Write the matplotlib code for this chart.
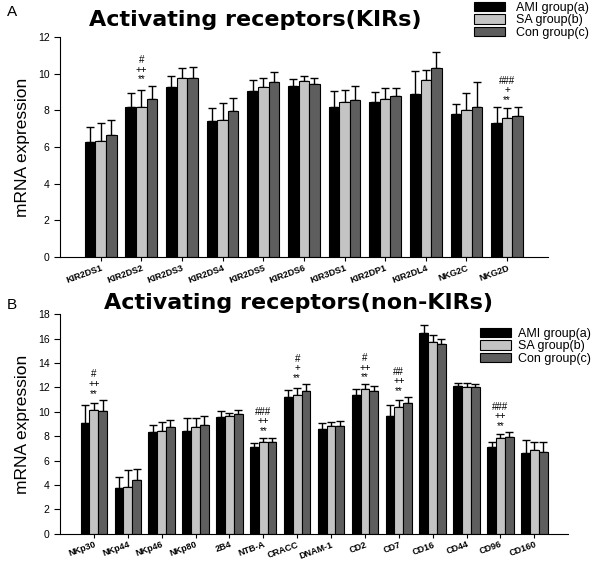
import numpy as np
from matplotlib import pyplot as plt

plt.rcParams['font.family'] = ['Liberation Sans', 'DejaVu Sans']

groups = ['AMI group(a)', 'SA group(b)', 'Con group(c)']
colors = ['#000000', '#c4c4c4', '#5e5e5e']

# panel A: KIRs
kir_names = ['KIR2DS1', 'KIR2DS2', 'KIR2DS3', 'KIR2DS4', 'KIR2DS5', 'KIR2DS6',
             'KIR3DS1', 'KIR2DP1', 'KIR2DL4', 'NKG2C', 'NKG2D']
kir_ami = [6.27, 8.16, 9.25, 7.41, 9.03, 9.34, 8.21, 8.43, 8.87, 7.80, 7.30]
kir_sa = [6.32, 8.20, 9.74, 7.47, 9.27, 9.58, 8.47, 8.63, 9.65, 8.01, 7.58]
kir_con = [6.68, 8.63, 9.74, 7.96, 9.54, 9.45, 8.54, 8.80, 10.33, 8.20, 7.69]
kir_ami_err = [0.83, 0.80, 0.60, 0.73, 0.64, 0.37, 0.86, 0.55, 1.29, 0.54, 0.91]
kir_sa_err = [0.97, 0.93, 0.56, 0.91, 0.51, 0.31, 0.66, 0.57, 0.53, 0.92, 0.54]
kir_con_err = [0.77, 0.71, 0.62, 0.73, 0.55, 0.31, 0.77, 0.42, 0.87, 1.36, 0.52]
kir_marks = {1: ['#', '++', '**'], 10: ['###', '+', '**']}

# panel B: non-KIRs
non_names = ['NKp30', 'NKp44', 'NKp46', 'NKp80', '2B4', 'NTB-A', 'CRACC',
             'DNAM-1', 'CD2', 'CD7', 'CD16', 'CD44', 'CD96', 'CD160']
non_ami = [9.04, 3.71, 8.31, 8.45, 9.58, 7.09, 11.20, 8.58, 11.34, 9.66, 16.49, 12.10, 7.15, 6.63]
non_sa = [10.12, 3.84, 8.45, 8.77, 9.66, 7.50, 11.40, 8.85, 11.88, 10.40, 15.73, 12.05, 7.82, 6.88]
non_con = [10.02, 4.41, 8.72, 8.90, 9.80, 7.50, 11.69, 8.80, 11.69, 10.69, 15.57, 12.02, 7.90, 6.71]
non_ami_err = [1.49, 0.97, 0.62, 1.00, 0.44, 0.35, 0.58, 0.49, 0.54, 0.92, 0.62, 0.27, 0.35, 1.06]
non_sa_err = [0.63, 1.36, 0.67, 0.68, 0.27, 0.38, 0.54, 0.27, 0.41, 0.54, 0.54, 0.29, 0.36, 0.62]
non_con_err = [0.94, 0.87, 0.59, 0.74, 0.35, 0.38, 0.55, 0.43, 0.41, 0.49, 0.43, 0.27, 0.41, 0.79]
non_marks = {0: ['#', '++', '**'], 5: ['###', '++', '**'], 6: ['#', '+', '**'],
             8: ['#', '++', '**'], 9: ['##', '++', '**'], 12: ['###', '++', '**']}


def draw_panel(ax, names, vals, errs, marks, ymax, width=0.26):
    x = np.arange(len(names))
    for i, (v, e) in enumerate(zip(vals, errs)):
        ax.bar(x + (i - 1) * width, v, width, color=colors[i], edgecolor='black',
               linewidth=0.8, label=groups[i], zorder=2)
        ax.errorbar(x + (i - 1) * width, v, yerr=[np.zeros(len(v)), e], fmt='none',
                    ecolor='black', elinewidth=1, capsize=3, capthick=1, zorder=1)
    tops = np.max([np.array(v) + np.array(e) for v, e in zip(vals, errs)], axis=0)
    for k, lines in marks.items():
        for j, s in enumerate(reversed(lines)):
            ax.annotate(s, (x[k], tops[k]), xytext=(0, 1 + j * 7),
                        textcoords='offset points', ha='center', va='bottom',
                        fontsize=7)
    ax.set_xlim(-1, len(names))
    ax.set_ylim(0, ymax)
    ax.set_yticks(np.arange(0, ymax + 1, 2))
    ax.set_xticks(x)
    ax.set_xticklabels(names, rotation=20, ha='right', rotation_mode='anchor',
                       fontsize=6.5, fontweight='bold')
    ax.tick_params(axis='y', labelsize=7.5, length=4, direction='out')
    ax.tick_params(axis='x', length=3, direction='out', pad=1.5)
    ax.spines['top'].set_visible(False)
    ax.spines['right'].set_visible(False)
    ax.set_ylabel('mRNA expression', fontsize=12.5)


fig = plt.figure(figsize=(6, 5.63), dpi=100)
ax1 = fig.add_axes([0.1, 0.5435, 0.813, 0.3907])
ax2 = fig.add_axes([0.1, 0.052, 0.847, 0.39])

draw_panel(ax1, kir_names, [kir_ami, kir_sa, kir_con],
           [kir_ami_err, kir_sa_err, kir_con_err], kir_marks, 12)
draw_panel(ax2, non_names, [non_ami, non_sa, non_con],
           [non_ami_err, non_sa_err, non_con_err], non_marks, 18)

ax1.yaxis.set_label_coords(-0.062, 0.5)
ax2.yaxis.set_label_coords(-0.059, 0.5)

fig.text(0.425, 0.965, 'Activating receptors(KIRs)', ha='center', va='center',
         fontsize=16, fontweight='bold', family='DejaVu Sans')
fig.text(0.497, 0.462, 'Activating receptors(non-KIRs)', ha='center', va='center',
         fontsize=16, fontweight='bold', family='DejaVu Sans')
fig.text(0.012, 0.978, 'A', fontsize=11, va='center')
fig.text(0.012, 0.458, 'B', fontsize=11, va='center')

ax1.legend(loc='upper left', bbox_to_anchor=(0.79, 0.997), bbox_transform=fig.transFigure,
           frameon=False, fontsize=9, handlelength=2.5, handleheight=0.75,
           labelspacing=0.05, handletextpad=0.9, borderaxespad=0, borderpad=0)
ax2.legend(loc='upper left', bbox_to_anchor=(0.80, 0.418), bbox_transform=fig.transFigure,
           frameon=False, fontsize=9, handlelength=2.5, handleheight=0.75,
           labelspacing=0.05, handletextpad=0.5, borderaxespad=0, borderpad=0)

fig.savefig('out.png', dpi=100)
